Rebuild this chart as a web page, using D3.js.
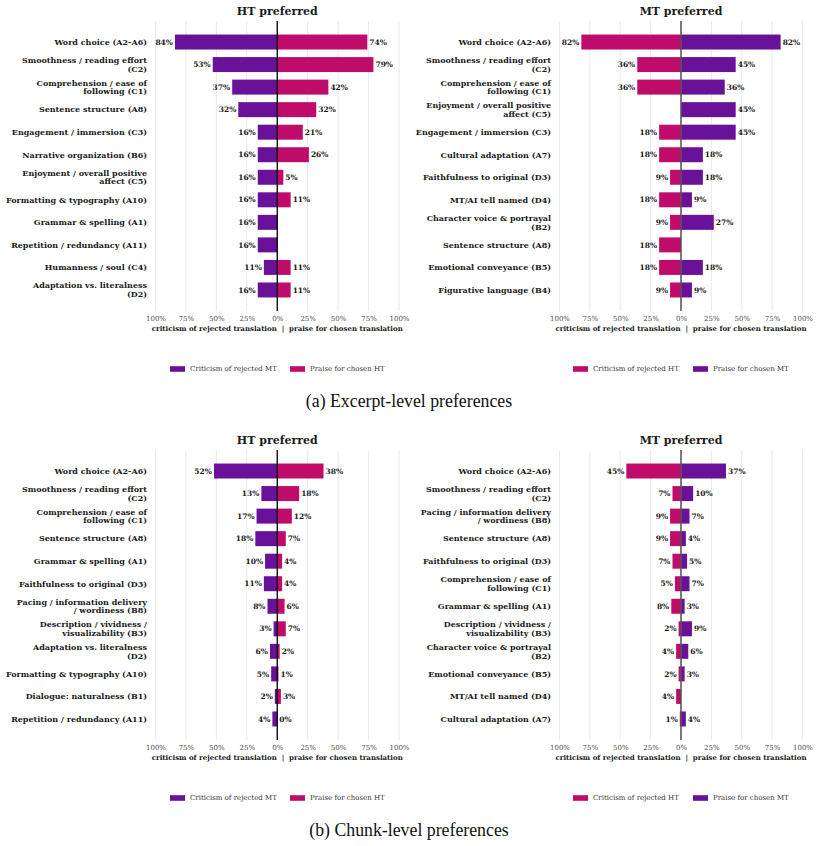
<!DOCTYPE html>
<html>
<head>
<meta charset="utf-8">
<script src="https://cdn.jsdelivr.net/npm/d3@7"></script>
<style>
  body { margin: 0; background: #fff; }
  svg { display: block; }
  .cat { font-family: "DejaVu Serif", serif; font-weight: bold; font-size: 8px; fill: #1a1a1a; }
  .val { font-family: "DejaVu Serif", serif; font-weight: bold; font-size: 7.5px; fill: #1a1a1a; }
  .ttl { font-family: "DejaVu Serif", serif; font-weight: bold; font-size: 11px; fill: #1a1a1a; }
  .tick text { font-family: "DejaVu Serif", serif; font-size: 7px; fill: #4d4d4d; }
  .axt { font-family: "DejaVu Serif", serif; font-weight: bold; font-size: 7px; fill: #1a1a1a; }
  .leg { font-family: "DejaVu Serif", serif; font-size: 7px; fill: #333; }
  .cap { font-family: "Liberation Serif", "Times New Roman", serif; font-size: 17.8px; fill: #111; }
</style>
</head>
<body>
<svg id="chart" width="819" height="846"></svg>
<script>
// ---- data (percent of comments) ----
var purple = "#6a1199", magenta = "#bf0c6b";

// (a) excerpt level, HT preferred
var exHTCats = ["Word choice (A2-A6)", "Smoothness / reading effort\n(C2)", "Comprehension / ease of\nfollowing (C1)",
  "Sentence structure (A8)", "Engagement / immersion (C3)", "Narrative organization (B6)",
  "Enjoyment / overall positive\naffect (C5)", "Formatting & typography (A10)", "Grammar & spelling (A1)",
  "Repetition / redundancy (A11)", "Humanness / soul (C4)", "Adaptation vs. literalness\n(D2)"];
var exHTCritMT   = [84, 53, 37, 32, 16, 16, 16, 16, 16, 16, 11, 16];
var exHTPraiseHT = [74, 79, 42, 32, 21, 26, 5, 11, null, null, 11, 11];

// (a) excerpt level, MT preferred
var exMTCats = ["Word choice (A2-A6)", "Smoothness / reading effort\n(C2)", "Comprehension / ease of\nfollowing (C1)",
  "Enjoyment / overall positive\naffect (C5)", "Engagement / immersion (C3)", "Cultural adaptation (A7)",
  "Faithfulness to original (D3)", "MT/AI tell named (D4)", "Character voice & portrayal\n(B2)",
  "Sentence structure (A8)", "Emotional conveyance (B5)", "Figurative language (B4)"];
var exMTCritHT   = [82, 36, 36, null, 18, 18, 9, 18, 9, 18, 18, 9];
var exMTPraiseMT = [82, 45, 36, 45, 45, 18, 18, 9, 27, null, 18, 9];

// (b) chunk level, HT preferred
var chHTCats = ["Word choice (A2-A6)", "Smoothness / reading effort\n(C2)", "Comprehension / ease of\nfollowing (C1)",
  "Sentence structure (A8)", "Grammar & spelling (A1)", "Faithfulness to original (D3)",
  "Pacing / information delivery\n/ wordiness (B8)", "Description / vividness /\nvisualizability (B3)",
  "Adaptation vs. literalness\n(D2)", "Formatting & typography (A10)", "Dialogue: naturalness (B1)",
  "Repetition / redundancy (A11)"];
var chHTCritMT   = [52, 13, 17, 18, 10, 11, 8, 3, 6, 5, 2, 4];
var chHTPraiseHT = [38, 18, 12, 7, 4, 4, 6, 7, 2, 1, 3, 0];

// (b) chunk level, MT preferred
var chMTCats = ["Word choice (A2-A6)", "Smoothness / reading effort\n(C2)", "Pacing / information delivery\n/ wordiness (B8)",
  "Sentence structure (A8)", "Faithfulness to original (D3)", "Comprehension / ease of\nfollowing (C1)",
  "Grammar & spelling (A1)", "Description / vividness /\nvisualizability (B3)", "Character voice & portrayal\n(B2)",
  "Emotional conveyance (B5)", "MT/AI tell named (D4)", "Cultural adaptation (A7)"];
var chMTCritHT   = [45, 7, 9, 9, 7, 5, 8, 2, 4, 2, 4, 1];
var chMTPraiseMT = [37, 10, 7, 4, 5, 7, 3, 9, 6, 3, null, 4];

var tickVals = [-100, -75, -50, -25, 0, 25, 50, 75, 100];
var axisTitle = "criticism of rejected translation  |  praise for chosen translation";
var captions = ["(a) Excerpt-level preferences", "(b) Chunk-level preferences"];

var panels = [
  { row: 0, side: 0, title: "HT preferred", cats: exHTCats, left: exHTCritMT, right: exHTPraiseHT,
    lc: purple, rc: magenta, ll: "Criticism of rejected MT", rl: "Praise for chosen HT" },
  { row: 0, side: 1, title: "MT preferred", cats: exMTCats, left: exMTCritHT, right: exMTPraiseMT,
    lc: magenta, rc: purple, ll: "Criticism of rejected HT", rl: "Praise for chosen MT" },
  { row: 1, side: 0, title: "HT preferred", cats: chHTCats, left: chHTCritMT, right: chHTPraiseHT,
    lc: purple, rc: magenta, ll: "Criticism of rejected MT", rl: "Praise for chosen HT" },
  { row: 1, side: 1, title: "MT preferred", cats: chMTCats, left: chMTCritHT, right: chMTPraiseMT,
    lc: magenta, rc: purple, ll: "Criticism of rejected HT", rl: "Praise for chosen MT" }
];

// ---- layout ----
var svg = d3.select("#chart");
var rowOff = [0, 429];
var sideX = [{ lo: 155.5, hi: 399, lab: 147, leg: 170 }, { lo: 559.5, hi: 802.5, lab: 551, leg: 573 }];

panels.forEach(function(p) {
  var oy = rowOff[p.row], sx = sideX[p.side];
  var g = svg.append("g").attr("transform", "translate(0," + oy + ")");

  var x = d3.scaleLinear().domain([-100, 100]).range([sx.lo, sx.hi]);
  var y = d3.scaleBand().domain(p.cats).range([30.7, 301.3]).paddingInner(0.335).paddingOuter(0.17);
  var x0 = x(0);

  // grid
  g.selectAll("line.grid").data(tickVals).enter().append("line")
    .attr("x1", function(d) { return x(d); }).attr("x2", function(d) { return x(d); })
    .attr("y1", 21).attr("y2", 311)
    .attr("stroke", "#ebebeb").attr("stroke-width", 1.1);

  // axis ticks
  var ax = g.append("g").attr("class", "tick-axis").attr("transform", "translate(0,313)")
    .call(d3.axisBottom(x).tickValues(tickVals).tickSize(0).tickPadding(3)
      .tickFormat(function(d) { return Math.abs(d) + "%"; }));
  ax.select(".domain").remove();

  g.append("text").attr("class", "axt").attr("x", x0).attr("y", 330.5)
    .attr("text-anchor", "middle").attr("xml:space", "preserve").text(axisTitle);

  g.append("text").attr("class", "ttl").attr("x", x0).attr("y", 15)
    .attr("text-anchor", "middle").text(p.title);

  var rows = p.cats.map(function(c, i) { return { cat: c, l: p.left[i], r: p.right[i] }; });

  // bars
  g.selectAll("rect.l").data(rows.filter(function(d) { return d.l != null; })).enter().append("rect")
    .attr("x", function(d) { return x(-d.l); }).attr("y", function(d) { return y(d.cat); })
    .attr("width", function(d) { return x0 - x(-d.l); }).attr("height", y.bandwidth())
    .attr("fill", p.lc);
  g.selectAll("rect.r").data(rows.filter(function(d) { return d.r != null; })).enter().append("rect")
    .attr("x", x0).attr("y", function(d) { return y(d.cat); })
    .attr("width", function(d) { return x(d.r) - x0; }).attr("height", y.bandwidth())
    .attr("fill", p.rc);

  // value labels
  var mid = function(d) { return y(d.cat) + y.bandwidth() / 2; };
  g.selectAll("text.vl").data(rows.filter(function(d) { return d.l != null; })).enter().append("text")
    .attr("class", "val").attr("x", function(d) { return x(-d.l) - 2; }).attr("y", mid)
    .attr("dy", "0.35em").attr("text-anchor", "end").text(function(d) { return d.l + "%"; });
  g.selectAll("text.vr").data(rows.filter(function(d) { return d.r != null; })).enter().append("text")
    .attr("class", "val").attr("x", function(d) { return x(d.r) + 2; }).attr("y", mid)
    .attr("dy", "0.35em").attr("text-anchor", "start").text(function(d) { return d.r + "%"; });

  // zero line
  g.append("line").attr("x1", x0).attr("x2", x0).attr("y1", 21).attr("y2", 311)
    .attr("stroke", p.side ? "#555" : "#000").attr("stroke-width", p.side ? 1.8 : 1.3)
    .attr("stroke-opacity", p.side ? 0.85 : 1);

  // category labels
  rows.forEach(function(d) {
    var lines = d.cat.split("\n");
    var t = g.append("text").attr("class", "cat").attr("text-anchor", "end")
      .attr("y", mid(d) - (lines.length - 1) * 4.35).attr("dy", "0.35em");
    lines.forEach(function(s, i) {
      t.append("tspan").attr("x", sx.lab).attr("dy", i ? 8.7 : "0.35em").text(s);
    });
  });

  // legend
  var lg = g.append("g").attr("transform", "translate(" + sx.leg + ",369)");
  [[p.lc, p.ll, 0], [p.rc, p.rl, 120]].forEach(function(e) {
    lg.append("rect").attr("x", e[2]).attr("y", -2.8).attr("width", 15).attr("height", 5.6).attr("fill", e[0]);
    lg.append("text").attr("class", "leg").attr("x", e[2] + 20).attr("y", 0).attr("dy", "0.35em").text(e[1]);
  });
});

captions.forEach(function(c, i) {
  svg.append("text").attr("class", "cap").attr("x", 409).attr("y", 407 + rowOff[i])
    .attr("text-anchor", "middle").text(c);
});
</script>
</body>
</html>
